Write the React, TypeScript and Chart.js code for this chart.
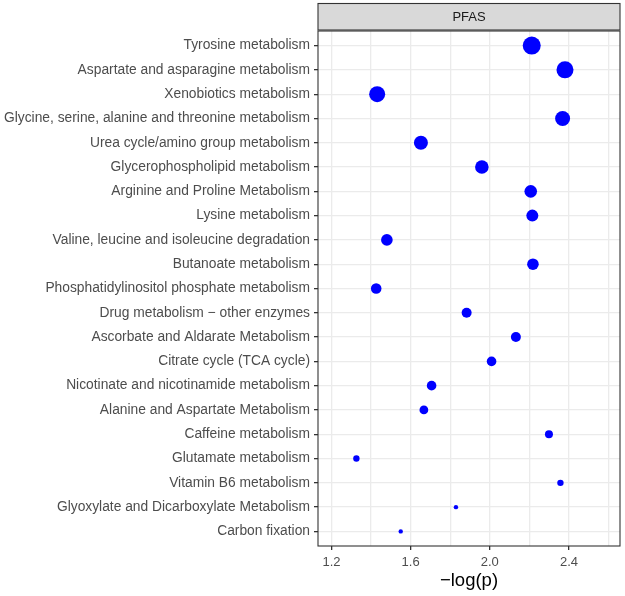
import React, { useEffect, useRef } from "react";
import { Chart, registerables } from "chart.js";

Chart.register(...registerables);

const pathways = [
  "Tyrosine metabolism",
  "Aspartate and asparagine metabolism",
  "Xenobiotics metabolism",
  "Glycine, serine, alanine and threonine metabolism",
  "Urea cycle/amino group metabolism",
  "Glycerophospholipid metabolism",
  "Arginine and Proline Metabolism",
  "Lysine metabolism",
  "Valine, leucine and isoleucine degradation",
  "Butanoate metabolism",
  "Phosphatidylinositol phosphate metabolism",
  "Drug metabolism \u2212 other enzymes",
  "Ascorbate and Aldarate Metabolism",
  "Citrate cycle (TCA cycle)",
  "Nicotinate and nicotinamide metabolism",
  "Alanine and Aspartate Metabolism",
  "Caffeine metabolism",
  "Glutamate metabolism",
  "Vitamin B6 metabolism",
  "Glyoxylate and Dicarboxylate Metabolism",
  "Carbon fixation",
];

const negLogP = [
  2.212, 2.38, 1.431, 2.368, 1.652, 1.96, 2.207, 2.215, 1.48, 2.218, 1.426,
  1.883, 2.132, 2.009, 1.706, 1.667, 2.299, 1.326, 2.357, 1.829, 1.55,
];

const pointRadius = [
  9, 8.5, 8, 7.5, 7, 6.8, 6.3, 6, 5.8, 5.8, 5.3, 5, 5, 4.8, 4.8, 4.4, 4, 3.2,
  3.2, 2.2, 2.2,
];

const xTicks = [1.2, 1.4, 1.6, 1.8, 2.0, 2.2, 2.4, 2.6];
const xLabelTicks = [1.2, 1.6, 2.0, 2.4];
const panelTitle = "PFAS";
const xTitle = "\u2212log(p)";

const FONT = "'Liberation Sans', Arial, sans-serif";

export default function App() {
  const ref = useRef<HTMLCanvasElement | null>(null);

  useEffect(() => {
    document.body.style.margin = "0";
    const canvas = ref.current;
    if (!canvas) return;

    const panelPlugin = {
      id: "panelPlugin",
      beforeDraw(chart: any) {
        const { ctx } = chart;
        ctx.save();
        ctx.fillStyle = "#ffffff";
        ctx.fillRect(0, 0, chart.width, chart.height);
        ctx.restore();
      },
      afterDraw(chart: any) {
        const { ctx, chartArea } = chart;
        const { left, right, top, bottom } = chartArea;
        ctx.save();
        ctx.strokeStyle = "#333333";
        ctx.lineWidth = 1.1;
        ctx.strokeRect(left, top, right - left, bottom - top);
        const stripTop = 3.5;
        const stripH = top - stripTop - 1;
        ctx.fillStyle = "#D9D9D9";
        ctx.fillRect(left, stripTop, right - left, stripH);
        ctx.strokeRect(left, stripTop, right - left, stripH);
        ctx.fillStyle = "#1A1A1A";
        ctx.font = `13px ${FONT}`;
        ctx.textAlign = "center";
        ctx.textBaseline = "middle";
        ctx.fillText(panelTitle, (left + right) / 2, stripTop + stripH / 2 + 0.5);
        ctx.restore();
      },
    };

    const chart = new Chart(canvas, {
      type: "bubble",
      data: {
        datasets: [
          {
            data: negLogP.map((v, i) => ({ x: v, y: i, r: pointRadius[i] })),
            backgroundColor: "#0000FF",
            borderColor: "#0000FF",
            borderWidth: 0,
          },
        ],
      },
      options: {
        responsive: false,
        animation: false,
        maintainAspectRatio: false,
        layout: {
          autoPadding: false,
          padding: { top: 31, right: 5, bottom: 0, left: 0 },
        },
        plugins: {
          legend: { display: false },
          tooltip: { enabled: false },
        },
        scales: {
          x: {
            type: "linear",
            min: 1.132,
            max: 2.658,
            afterBuildTicks: (axis: any) => {
              axis.ticks = xTicks.map((v) => ({ value: v }));
            },
            afterFit: (axis: any) => {
              axis.height = 50;
            },
            ticks: {
              autoSkip: false,
              maxRotation: 0,
              color: "#4D4D4D",
              font: { family: FONT, size: 13 },
              padding: 5,
              callback: (v: any) => {
                const n = Number(v);
                return xLabelTicks.some((t) => Math.abs(t - n) < 1e-6)
                  ? n.toFixed(1)
                  : "";
              },
            },
            grid: {
              color: "#EBEBEB",
              lineWidth: 1.3,
              tickLength: 4,
              tickColor: (ctx: any) => {
                const n = ctx.tick ? ctx.tick.value : 0;
                return xLabelTicks.some((t) => Math.abs(t - n) < 1e-6)
                  ? "#333333"
                  : "rgba(0,0,0,0)";
              },
            },
            border: { display: false },
            title: {
              display: true,
              text: xTitle,
              color: "#000000",
              font: { family: FONT, size: 18.5 },
              padding: { top: 0, bottom: 4 },
            },
          },
          y: {
            type: "linear",
            reverse: true,
            min: -0.6,
            max: pathways.length - 1 + 0.6,
            afterBuildTicks: (axis: any) => {
              axis.ticks = pathways.map((_, i) => ({ value: i }));
            },
            afterFit: (axis: any) => {
              axis.width = 318;
            },
            ticks: {
              autoSkip: false,
              color: "#4D4D4D",
              font: { family: FONT, size: 13.8 },
              padding: 4,
              callback: (v: any) => pathways[Math.round(Number(v))] ?? "",
            },
            grid: {
              color: "#EBEBEB",
              lineWidth: 1.3,
              tickLength: 4,
              tickColor: "#333333",
            },
            border: { display: false },
          },
        },
      },
      plugins: [panelPlugin],
    } as any);

    return () => chart.destroy();
  }, []);

  return (
    <div style={{ width: 625, height: 596 }}>
      <canvas ref={ref} width={625} height={596} style={{ display: "block" }} />
    </div>
  );
}
